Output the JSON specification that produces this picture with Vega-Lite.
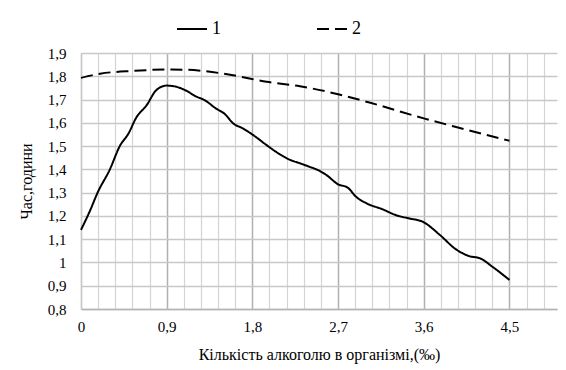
{
  "$schema": "https://vega.github.io/schema/vega-lite/v6.json",
  "width": 476,
  "height": 256,
  "autosize": {"type": "none"},
  "padding": {"left": 81, "top": 53, "right": 9, "bottom": 61},
  "background": "white",
  "config": {
    "font": "Liberation Serif, Times New Roman, DejaVu Serif, serif",
    "view": {"stroke": null}
  },
  "data": {
    "values": [
      {"x": 0, "y": 1.14, "s": "1"},
      {"x": 0.09, "y": 1.218, "s": "1"},
      {"x": 0.18, "y": 1.305, "s": "1"},
      {"x": 0.3, "y": 1.397, "s": "1"},
      {"x": 0.41, "y": 1.502, "s": "1"},
      {"x": 0.5, "y": 1.555, "s": "1"},
      {"x": 0.58, "y": 1.622, "s": "1"},
      {"x": 0.69, "y": 1.676, "s": "1"},
      {"x": 0.79, "y": 1.74, "s": "1"},
      {"x": 0.9, "y": 1.76, "s": "1"},
      {"x": 1.0, "y": 1.755, "s": "1"},
      {"x": 1.11, "y": 1.737, "s": "1"},
      {"x": 1.2, "y": 1.715, "s": "1"},
      {"x": 1.3, "y": 1.697, "s": "1"},
      {"x": 1.42, "y": 1.661, "s": "1"},
      {"x": 1.51, "y": 1.638, "s": "1"},
      {"x": 1.6, "y": 1.597, "s": "1"},
      {"x": 1.7, "y": 1.576, "s": "1"},
      {"x": 1.81, "y": 1.547, "s": "1"},
      {"x": 1.95, "y": 1.504, "s": "1"},
      {"x": 2.05, "y": 1.475, "s": "1"},
      {"x": 2.19, "y": 1.442, "s": "1"},
      {"x": 2.3, "y": 1.426, "s": "1"},
      {"x": 2.4, "y": 1.411, "s": "1"},
      {"x": 2.49, "y": 1.397, "s": "1"},
      {"x": 2.58, "y": 1.375, "s": "1"},
      {"x": 2.7, "y": 1.336, "s": "1"},
      {"x": 2.8, "y": 1.322, "s": "1"},
      {"x": 2.89, "y": 1.282, "s": "1"},
      {"x": 3.0, "y": 1.254, "s": "1"},
      {"x": 3.17, "y": 1.228, "s": "1"},
      {"x": 3.31, "y": 1.203, "s": "1"},
      {"x": 3.45, "y": 1.189, "s": "1"},
      {"x": 3.59, "y": 1.175, "s": "1"},
      {"x": 3.77, "y": 1.118, "s": "1"},
      {"x": 3.94, "y": 1.056, "s": "1"},
      {"x": 4.08, "y": 1.027, "s": "1"},
      {"x": 4.19, "y": 1.018, "s": "1"},
      {"x": 4.33, "y": 0.979, "s": "1"},
      {"x": 4.5, "y": 0.925, "s": "1"},
      {"x": 0, "y": 1.793, "s": "2"},
      {"x": 0.2, "y": 1.811, "s": "2"},
      {"x": 0.55, "y": 1.823, "s": "2"},
      {"x": 0.9, "y": 1.829, "s": "2"},
      {"x": 1.1, "y": 1.828, "s": "2"},
      {"x": 1.28, "y": 1.823, "s": "2"},
      {"x": 1.6, "y": 1.804, "s": "2"},
      {"x": 1.95, "y": 1.776, "s": "2"},
      {"x": 2.3, "y": 1.757, "s": "2"},
      {"x": 2.7, "y": 1.723, "s": "2"},
      {"x": 3.03, "y": 1.687, "s": "2"},
      {"x": 3.61, "y": 1.618, "s": "2"},
      {"x": 3.94, "y": 1.582, "s": "2"},
      {"x": 4.5, "y": 1.523, "s": "2"}
    ]
  },
  "mark": {"type": "line", "interpolate": "monotone", "strokeWidth": 2},
  "encoding": {
    "x": {
      "field": "x",
      "type": "quantitative",
      "scale": {"domain": [0, 5], "nice": false, "zero": false},
      "axis": {
        "title": "Кількість алкоголю в організмі,(‰)",
        "titleFont": "Liberation Serif, Times New Roman, DejaVu Serif, serif",
        "titleFontSize": 16,
        "titleFontWeight": "normal",
        "titleColor": "#000000",
        "titlePadding": 12,
        "values": [0, 0.18, 0.36, 0.54, 0.72, 0.9, 1.08, 1.26, 1.44, 1.62, 1.8, 1.98, 2.16, 2.34, 2.52, 2.7, 2.88, 3.06, 3.24, 3.42, 3.6, 3.78, 3.96, 4.14, 4.32, 4.5, 4.68, 4.86],
        "labelExpr": "abs(datum.value / 0.9 - round(datum.value / 0.9)) < 0.001 ? replace(format(datum.value, '.1~f'), '.', ',') : ''",
        "labelFont": "Liberation Serif, Times New Roman, DejaVu Serif, serif",
        "labelFontSize": 15,
        "labelColor": "#000000",
        "labelPadding": 10,
        "labelOverlap": false,
        "labelFlush": false,
        "ticks": false,
        "tickSize": 0,
        "domain": true,
        "domainColor": "#b4b4b4",
        "domainWidth": 1.5,
        "grid": true,
        "gridColor": {"condition": {"test": "abs(datum.value / 0.9 - round(datum.value / 0.9)) < 0.001", "value": "#b0b0b0"}, "value": "#d4d4d4"},
        "gridWidth": {"condition": {"test": "abs(datum.value / 0.9 - round(datum.value / 0.9)) < 0.001", "value": 1.5}, "value": 1.2},
        "gridOpacity": 1
      }
    },
    "y": {
      "field": "y",
      "type": "quantitative",
      "scale": {"domain": [0.8, 1.9], "nice": false, "zero": false},
      "axis": {
        "title": "Час,години",
        "titleFont": "Liberation Serif, Times New Roman, DejaVu Serif, serif",
        "titleFontSize": 16,
        "titleFontWeight": "normal",
        "titleColor": "#000000",
        "titlePadding": 13,
        "values": [0.8, 0.9, 1.0, 1.1, 1.2, 1.3, 1.4, 1.5, 1.6, 1.7, 1.8, 1.9],
        "labelExpr": "replace(format(datum.value, '.1~f'), '.', ',')",
        "labelFont": "Liberation Serif, Times New Roman, DejaVu Serif, serif",
        "labelFontSize": 15,
        "labelColor": "#000000",
        "labelPadding": 15,
        "labelFlush": false,
        "labelOverlap": false,
        "ticks": false,
        "tickSize": 0,
        "domain": true,
        "domainColor": "#c8c8c8",
        "grid": true,
        "gridColor": "#c8c8c8",
        "gridWidth": 1.4
      }
    },
    "strokeDash": {
      "field": "s",
      "type": "nominal",
      "scale": {"domain": ["1", "2"], "range": [[1, 0], [12, 6]]},
      "legend": {
        "title": null,
        "orient": "none",
        "legendX": 95,
        "legendY": -40,
        "direction": "horizontal",
        "symbolType": "stroke",
        "symbolSize": 900,
        "symbolStrokeWidth": 2,
        "symbolStrokeColor": "#000000",
        "labelFont": "Liberation Serif, Times New Roman, DejaVu Serif, serif",
        "labelFontSize": 18,
        "labelColor": "#000000",
        "labelOffset": 4,
        "columnPadding": 92,
        "padding": 0
      }
    },
    "color": {"value": "#000000"}
  }
}
